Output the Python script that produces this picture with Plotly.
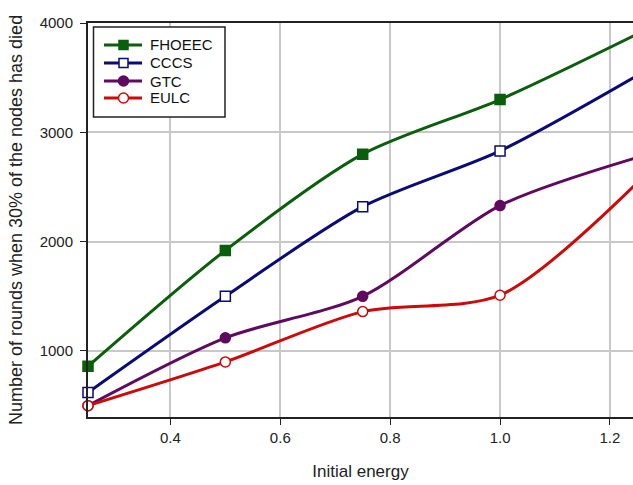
import plotly.graph_objects as go

energy = [0.25, 0.5, 0.75, 1.0, 1.25]
fhoeec = [860, 1920, 2800, 3300, 3900]
cccs = [620, 1500, 2320, 2830, 3520]
gtc = [500, 1120, 1500, 2330, 2770]
eulc = [500, 900, 1360, 1510, 2540]

series = [
    ("FHOEEC", fhoeec, "#0b5e0b", "square", "#0b5e0b"),
    ("CCCS", cccs, "#0a0a78", "square", "white"),
    ("GTC", gtc, "#5e0a5e", "circle", "#5e0a5e"),
    ("EULC", eulc, "#cc0a0a", "circle", "white"),
]

# plot area in pixels (for the hand-drawn legend box)
L, R, T, B = 88, 633, 23, 417
def px(x):
    return (x - L) / (R - L)
def py(y):
    return (B - y) / (B - T)

fig = go.Figure()
for name, vals, col, sym, fill in series:
    fig.add_trace(go.Scatter(
        x=energy, y=vals, name=name, mode="lines+markers",
        line=dict(color=col, width=3, shape="spline", smoothing=0.8),
        marker=dict(symbol=sym, size=10, color=fill, line=dict(color=col, width=1.5)),
        cliponaxis=False, showlegend=False,
    ))

shapes = [dict(type="rect", xref="paper", yref="paper",
               x0=px(93.5), x1=px(225), y0=py(117), y1=py(27),
               line=dict(color="#222", width=1.5), fillcolor="white", layer="above")]
annotations = []
row_y = [45, 63, 81, 98]
for (name, vals, col, sym, fill), yy in zip(series, row_y):
    shapes.append(dict(type="line", xref="paper", yref="paper",
                       x0=px(104), x1=px(142), y0=py(yy), y1=py(yy),
                       line=dict(color=col, width=3), layer="above"))
    h = 4.5 if sym == "square" else 5
    shapes.append(dict(type="rect" if sym == "square" else "circle",
                       xref="paper", yref="paper",
                       xsizemode="pixel", ysizemode="pixel",
                       xanchor=px(123.5), yanchor=py(yy),
                       x0=-h, x1=h, y0=-h, y1=h,
                       fillcolor=fill, line=dict(color=col, width=1.5), layer="above"))
    annotations.append(dict(xref="paper", yref="paper", x=px(148), y=py(yy),
                            xanchor="left", yanchor="middle", showarrow=False,
                            text=name, font=dict(size=15, color="#111")))

fig.update_layout(
    width=633, height=485,
    margin=dict(l=L, r=633 - R, t=T, b=485 - B, autoexpand=False),
    paper_bgcolor="white", plot_bgcolor="white",
    font=dict(family="Liberation Sans, Arial, sans-serif", size=15, color="#222"),
    showlegend=False,
    shapes=shapes, annotations=annotations,
)
fig.update_xaxes(
    range=[0.25, 1.242], tickvals=[0.4, 0.6, 0.8, 1.0, 1.2],
    ticktext=["0.4", "0.6", "0.8", "1.0", "1.2"],
    showgrid=True, gridcolor="#c8c8c8", gridwidth=1.5,
    showline=True, linecolor="#222", linewidth=2, mirror=True,
    ticks="outside", ticklen=6, tickcolor="#222",
    zeroline=False, automargin=False,
    title=dict(text="Initial energy", font=dict(size=17), standoff=20),
)
fig.update_yaxes(
    range=[396, 4000], tickvals=[1000, 2000, 3000, 4000],
    showgrid=True, gridcolor="#c8c8c8", gridwidth=1.5,
    showline=True, linecolor="#222", linewidth=2,
    ticks="outside", ticklen=6, tickcolor="#222", ticklabelstandoff=4,
    zeroline=False, automargin=False,
    title=dict(text="Number of rounds when 30% of the nodes has died", font=dict(size=18), standoff=12),
)

fig.write_html(
    "out.html",
    config={"displayModeBar": False},
    post_script="document.body.style.margin='0';document.body.style.overflow='hidden';",
)
